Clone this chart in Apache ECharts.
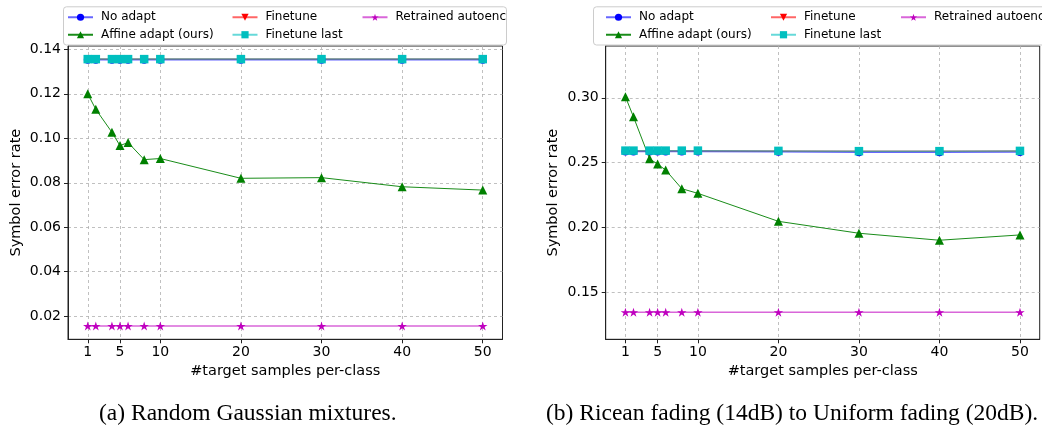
<!DOCTYPE html>
<html>
<head>
<meta charset="utf-8">
<script src="https://cdn.jsdelivr.net/npm/echarts@6/dist/echarts.min.js"></script>
<style>
  html, body { margin: 0; padding: 0; background: #fff; }
  #chart { width: 1042px; height: 427px; }
</style>
</head>
<body>
<div id="chart"></div>
<script>
// target samples per class (x values)
const samples = [1, 2, 4, 5, 6, 8, 10, 20, 30, 40, 50];
const xTicks = [1, 5, 10, 20, 30, 40, 50];

// (a) Random Gaussian mixtures
const noAdaptA = [0.1353, 0.1353, 0.1353, 0.1353, 0.1353, 0.1353, 0.1353, 0.1353, 0.1353, 0.1353, 0.1353];
const affineA = [0.1200, 0.1130, 0.1027, 0.0967, 0.0981, 0.0904, 0.0909, 0.0820, 0.0823, 0.0782, 0.0767];
const finetuneA = [0.1356, 0.1356, 0.1356, 0.1356, 0.1356, 0.1356, 0.1356, 0.1356, 0.1356, 0.1356, 0.1356];
const finetuneLastA = [0.1356, 0.1356, 0.1356, 0.1356, 0.1356, 0.1356, 0.1356, 0.1356, 0.1356, 0.1356, 0.1356];
const retrainedA = [0.0156, 0.0156, 0.0156, 0.0156, 0.0156, 0.0156, 0.0156, 0.0156, 0.0156, 0.0156, 0.0156];
const yTicksA = [0.02, 0.04, 0.06, 0.08, 0.10, 0.12, 0.14];

// (b) Ricean fading (14dB) -> Uniform fading (20dB)
const noAdaptB = [0.2585, 0.2585, 0.2585, 0.2585, 0.2585, 0.2585, 0.2585, 0.2583, 0.2580, 0.2580, 0.2582];
const affineB = [0.3008, 0.2853, 0.2529, 0.2488, 0.2442, 0.2298, 0.2262, 0.2046, 0.1954, 0.1900, 0.1941];
const finetuneB = [0.2592, 0.2592, 0.2592, 0.2592, 0.2592, 0.2592, 0.2592, 0.2590, 0.2588, 0.2588, 0.2590];
const finetuneLastB = [0.2592, 0.2592, 0.2592, 0.2592, 0.2592, 0.2592, 0.2592, 0.2590, 0.2588, 0.2588, 0.2590];
const retrainedB = [0.1344, 0.1344, 0.1344, 0.1344, 0.1344, 0.1344, 0.1344, 0.1344, 0.1344, 0.1344, 0.1344];
const yTicksB = [0.15, 0.20, 0.25, 0.30];

const FONT = "DejaVu Sans";
const STAR = "path://M100,0 L122.45,69.1 L195.11,69.1 L136.33,111.8 L158.78,180.9 L100,138.2 L41.22,180.9 L63.67,111.8 L4.89,69.1 L77.55,69.1 Z";

function pairs(ys) {
  return samples.map((x, i) => [x, ys[i]]);
}

function makeSeries(idx, data) {
  const common = { type: "line", xAxisIndex: idx, yAxisIndex: idx, animation: false, z: 3 };
  return [
    Object.assign({}, common, {
      name: "No adapt", data: pairs(data[0]), symbol: "circle", symbolSize: 8,
      itemStyle: { color: "#0000ff" }, lineStyle: { color: "#0000ff", width: 1.5, opacity: 0.6 }
    }),
    Object.assign({}, common, {
      name: "Affine adapt (ours)", data: pairs(data[1]), symbol: "triangle", symbolSize: 9,
      itemStyle: { color: "#008000" }, lineStyle: { color: "#008000", width: 1, opacity: 0.9 }
    }),
    Object.assign({}, common, {
      name: "Finetune", data: pairs(data[2]), symbol: "triangle", symbolRotate: 180, symbolSize: 7,
      itemStyle: { color: "#ff0000" }, lineStyle: { color: "#ff0000", width: 1.5, opacity: 0.6 }
    }),
    Object.assign({}, common, {
      name: "Finetune last", data: pairs(data[3]), symbol: "rect", symbolSize: 8.5,
      itemStyle: { color: "#00bfbf" }, lineStyle: { color: "#00bfbf", width: 1.5, opacity: 0.6 }
    }),
    Object.assign({}, common, {
      name: "Retrained autoenc", data: pairs(data[4]), symbol: STAR, symbolKeepAspect: true, symbolSize: 9.5,
      itemStyle: { color: "#bf00bf" }, lineStyle: { color: "#bf00bf", width: 1.5, opacity: 0.6 }
    })
  ];
}

function makeX(idx) {
  return {
    type: "value", gridIndex: idx, min: -1.45, max: 52.45,
    name: "#target samples per-class", nameLocation: "middle", nameGap: 24,
    nameTextStyle: { fontFamily: FONT, fontSize: 14.5, color: "#000" },
    axisLine: { show: true, onZero: false, lineStyle: { color: "#222", width: 1 } },
    axisTick: { show: true, length: 4, customValues: xTicks, lineStyle: { color: "#222" } },
    axisLabel: { customValues: xTicks, margin: 6, fontFamily: FONT, fontSize: 14, color: "#000" },
    splitLine: { show: true, lineStyle: { color: "#b0b0b0", type: [3, 3], width: 0.8 } }
  };
}

function makeY(idx, min, max, ticks, gap) {
  return {
    type: "value", gridIndex: idx, min: min, max: max,
    name: "Symbol error rate", nameLocation: "middle", nameGap: gap,
    nameTextStyle: { fontFamily: FONT, fontSize: 14.5, color: "#000" },
    axisLine: { show: true, onZero: false, lineStyle: { color: "#222", width: 1 } },
    axisTick: { show: true, length: 4, customValues: ticks, lineStyle: { color: "#222" } },
    axisLabel: { customValues: ticks, margin: 7, fontFamily: FONT, fontSize: 14, color: "#000",
      formatter: v => v.toFixed(2) },
    splitLine: { show: true, lineStyle: { color: "#b0b0b0", type: [3, 3], width: 0.8 } }
  };
}

function makeLegend(left, names) {
  return {
    orient: "vertical", left: left, top: 10, padding: 0, itemWidth: 25, itemHeight: 9, itemGap: 3,
    selectedMode: false, data: names, z: 6,
    formatter: "{t|{name}}",
    textStyle: { fontFamily: FONT, fontSize: 12, color: "#000", lineHeight: 14.5,
      rich: { t: { fontFamily: FONT, fontSize: 12, color: "#000", padding: [0, 0, 0, 3] } } }
  };
}

const cols = [["No adapt", "Affine adapt (ours)"], ["Finetune", "Finetune last"], ["Retrained autoenc"]];

const myChart = echarts.init(document.getElementById("chart"), null, { renderer: "canvas" });

const option = {
  backgroundColor: "#fff",
  animation: false,
  grid: [
    { left: 68, top: 46, width: 434.5, height: 293.3, show: true, borderColor: "#222", borderWidth: 1 },
    { left: 605.7, top: 46, width: 434, height: 293.3, show: true, borderColor: "#222", borderWidth: 1 }
  ],
  xAxis: [makeX(0), makeX(1)],
  yAxis: [makeY(0, 0.0096, 0.1415, yTicksA, 44), makeY(1, 0.1135, 0.34, yTicksB, 45)],
  legend: [
    makeLegend(67, cols[0]), makeLegend(231.5, cols[1]), makeLegend(361.5, cols[2]),
    makeLegend(605, cols[0]), makeLegend(770, cols[1]), makeLegend(900, cols[2])
  ],
  graphic: [
    { type: "rect", shape: { x: 63.5, y: 6.8, width: 443, height: 38.2, r: 3 }, z: 1,
      style: { fill: "rgba(255,255,255,0.8)", stroke: "#cccccc", lineWidth: 1 } },
    { type: "rect", shape: { x: 593.5, y: 6.8, width: 460, height: 38.2, r: 3 }, z: 1,
      style: { fill: "rgba(255,255,255,0.8)", stroke: "#cccccc", lineWidth: 1 } },
    { type: "text", left: 99, top: 402, z: 5,
      style: { text: "(a) Random Gaussian mixtures.", fontFamily: "Liberation Serif", fontSize: 23.5, fill: "#000" } },
    { type: "text", left: 546, top: 402, z: 5,
      style: { text: "(b) Ricean fading (14dB) to Uniform fading (20dB).", fontFamily: "Liberation Serif", fontSize: 23.5, fill: "#000" } }
  ],
  series: makeSeries(0, [noAdaptA, affineA, finetuneA, finetuneLastA, retrainedA])
    .concat(makeSeries(1, [noAdaptB, affineB, finetuneB, finetuneLastB, retrainedB]))
};

myChart.setOption(option);
</script>
</body>
</html>
